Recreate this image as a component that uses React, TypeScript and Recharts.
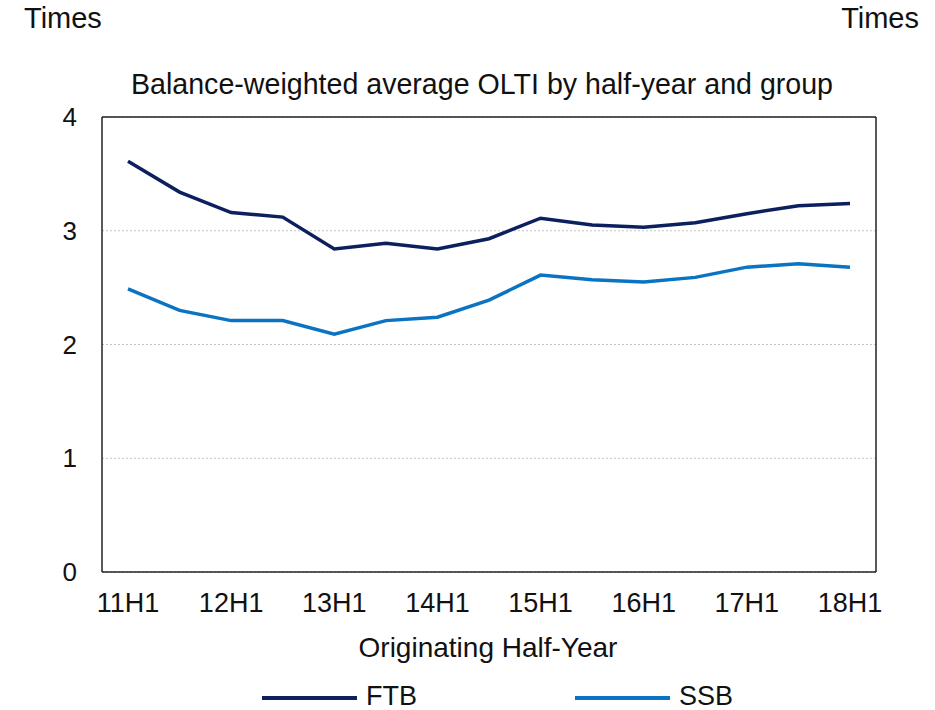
import React from "react";
import {
  LineChart,
  Line,
  XAxis,
  YAxis,
  CartesianGrid,
  ReferenceLine,
  Legend,
} from "recharts";

const periods = [
  "11H1", "11H2", "12H1", "12H2", "13H1", "13H2", "14H1", "14H2",
  "15H1", "15H2", "16H1", "16H2", "17H1", "17H2", "18H1",
];
const ftb = [3.61, 3.34, 3.16, 3.12, 2.84, 2.89, 2.84, 2.93, 3.11, 3.05, 3.03, 3.07, 3.15, 3.22, 3.24];
const ssb = [2.49, 2.3, 2.21, 2.21, 2.09, 2.21, 2.24, 2.39, 2.61, 2.57, 2.55, 2.59, 2.68, 2.71, 2.68];
const yTicks = [0, 1, 2, 3, 4];

const data = periods.map((p, i) => ({ period: p, FTB: ftb[i], SSB: ssb[i] }));

const FONT = "'Liberation Sans', Arial, sans-serif";
const AXIS = "#222222";

const renderLegend = (props: any) => {
  const { payload } = props;
  // fixed slots to match the original legend placement
  const slots = [262, 575];
  return (
    <svg width={935} height={35} style={{ display: "block" }}>
      {payload.map((entry: any, i: number) => (
        <g key={entry.value}>
          <line x1={slots[i]} x2={slots[i] + 95} y1={23} y2={23} stroke={entry.color} strokeWidth={4} />
          <text x={slots[i] + 104} y={30} fontSize={27} fontFamily={FONT} fill="#111">
            {entry.value}
          </text>
        </g>
      ))}
    </svg>
  );
};

export default function App() {
  return (
    <div style={{ position: "absolute", left: 0, top: 0, width: 935, height: 710, background: "#fff", fontFamily: FONT }}>
      <LineChart
        width={935}
        height={710}
        data={data}
        margin={{ top: 117, right: 0, left: 0, bottom: 0 }}
      >
        <CartesianGrid vertical={false} stroke="#c4c4c4" strokeDasharray="2 2" yAxisId="left" />
        <XAxis
          dataKey="period"
          interval={1}
          height={103}
          padding={{ left: 26, right: 26 }}
          tickLine={false}
          tickSize={0}
          tickMargin={21}
          axisLine={{ stroke: AXIS, strokeWidth: 1.5 }}
          tick={{ fontSize: 27, fill: "#111", fontFamily: FONT }}
        />
        <YAxis
          yAxisId="left"
          domain={[0, 4]}
          ticks={yTicks}
          width={102}
          tickLine={false}
          tickSize={0}
          tickMargin={25}
          axisLine={{ stroke: AXIS, strokeWidth: 1.5 }}
          tick={{ fontSize: 26, fill: "#111", fontFamily: FONT }}
        />
        <YAxis
          yAxisId="right"
          orientation="right"
          domain={[0, 4]}
          ticks={yTicks}
          width={59}
          tickLine={false}
          tickSize={0}
          tickMargin={24}
          axisLine={{ stroke: AXIS, strokeWidth: 1.5 }}
          tick={{ fontSize: 26, fill: "#111", fontFamily: FONT }}
        />
        <ReferenceLine yAxisId="left" y={4} stroke={AXIS} strokeWidth={1.5} />
        <Line
          yAxisId="left"
          type="linear"
          dataKey="FTB"
          stroke="#0c1f5e"
          strokeWidth={3.5}
          dot={false}
          isAnimationActive={false}
        />
        <Line
          yAxisId="left"
          type="linear"
          dataKey="SSB"
          stroke="#0b74c2"
          strokeWidth={3.5}
          dot={false}
          isAnimationActive={false}
        />
        <Legend
          content={renderLegend}
          wrapperStyle={{ position: "absolute", left: 0, top: 675, width: 935, height: 35 }}
        />
      </LineChart>
      <svg
        width={935}
        height={710}
        style={{ position: "absolute", left: 0, top: 0, pointerEvents: "none" }}
      >
        <text x={24} y={28} fontSize={29} fontFamily={FONT} fill="#111">Times</text>
        <text x={919} y={28} fontSize={29} fontFamily={FONT} fill="#111" textAnchor="end">Times</text>
        <text x={482} y={94} fontSize={28.6} fontFamily={FONT} fill="#111" textAnchor="middle">
          Balance-weighted average OLTI by half-year and group
        </text>
        <text x={488} y={657} fontSize={28} fontFamily={FONT} fill="#111" textAnchor="middle">
          Originating Half-Year
        </text>
      </svg>
    </div>
  );
}
